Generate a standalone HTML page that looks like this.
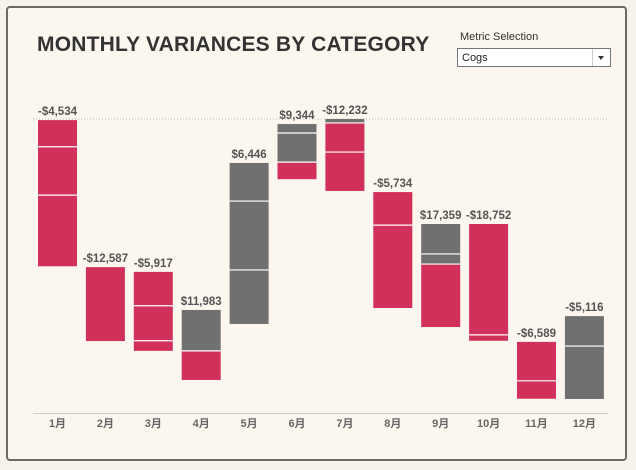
<!DOCTYPE html>
<html><head><meta charset="utf-8">
<style>
html,body{margin:0;padding:0;background:#f7f3ec;width:636px;height:470px;overflow:hidden;font-family:"Liberation Sans","Noto Sans CJK SC",sans-serif;}
#frame{position:absolute;left:6px;top:6px;width:621px;height:455px;border:2px solid #6e6a62;border-radius:4px;background:#fcf7ee;box-sizing:border-box;}
#title{position:absolute;left:37px;top:33px;font-size:21px;font-weight:bold;color:#333;letter-spacing:0.2px;}
#ms-label{position:absolute;left:460px;top:31px;font-size:11px;color:#333;}
#dropdown{position:absolute;left:457px;top:48px;width:154px;height:19px;border:1px solid #777;background:#fff;box-sizing:border-box;font-size:11px;color:#222;}
#dropdown span{position:absolute;left:4px;top:3px;}
#dropdown i{position:absolute;right:0;top:0;width:17px;height:17px;border-left:1px solid #ccc;}
#dropdown i:after{content:"";position:absolute;left:5px;top:7px;border-left:3.5px solid transparent;border-right:3.5px solid transparent;border-top:4px solid #333;}
svg{position:absolute;left:0;top:0;}
</style></head><body>
<div id="frame"></div>
<div id="title">MONTHLY VARIANCES BY CATEGORY</div>
<div id="ms-label">Metric Selection</div>
<div id="dropdown"><span>Cogs</span><i></i></div>
<svg id="chart" width="636" height="470"></svg>
<script>
const months=["1月","2月","3月","4月","5月","6月","7月","8月","9月","10月","11月","12月"];
const labels=["-$4,534","-$12,587","-$5,917","$11,983","$6,446","$9,344","-$12,232","-$5,734","$17,359","-$18,752","-$6,589","-$5,116"];
const starts=[-0.4,-52.9,-54.6,-68.2,-15.7,-1.8,0,-26.1,-37.5,-37.5,-79.6,-70.4];
const segSizes=[[9.5,17.3,25.4],[26.4],[12.1,12.5,3.6],[14.6,10.4],[13.6,24.6,19.3],[3.2,10.4,6.1],[1.4,10.4,13.9],[11.8,29.6],[10.7,3.6,22.5],[39.6,2.1],[13.9,6.4],[10.7,18.9]];
const segColors=[["r","r","r"],["r"],["r","r","r"],["g","r"],["g","g","g"],["g","g","r"],["g","r","r"],["r","r"],["g","g","r"],["r","r"],["r","r"],["g","g"]];
const NS="http://www.w3.org/2000/svg";
const svg=document.getElementById("chart");
const y=v=>119-v*2.8;
const x=i=>38+i*47.9;
const bw=39;
const col={r:"#d0305a",g:"#707070"};
function mk(t,a){const e=document.createElementNS(NS,t);for(const k in a)e.setAttribute(k,a[k]);svg.appendChild(e);return e;}
let ref=mk("line",{x1:33,x2:608,y1:119,y2:119,stroke:"#bbb","stroke-dasharray":"1,2","stroke-width":1});


let ax=mk("line",{x1:33,x2:608,y1:413.5,y2:413.5,stroke:"#ccc","stroke-width":1});


months.forEach((m,i)=>{
  let cur=starts[i];
  segSizes[i].forEach((s,j)=>{
    const top=y(cur),bot=y(cur-s);
    const r=mk("rect",{x:x(i),y:top,width:bw,height:bot-top,fill:col[segColors[i][j]]});
    
    
    if(j>0){const l=mk("line",{x1:x(i),x2:x(i)+bw,y1:top,y2:top,stroke:"#fff","stroke-width":1.2});
      
      }
    cur-=s;
  });
  const t=mk("text",{x:x(i)+bw/2,y:y(starts[i])-5,"text-anchor":"middle","font-size":"11.5","font-weight":"bold",fill:"#555"});
  t.textContent=labels[i];
  
  
  const mt=mk("text",{x:x(i)+bw/2,y:427,"text-anchor":"middle","font-size":"11","font-weight":"bold",fill:"#666"});
  mt.textContent=m;
  
  
});
</script>
</body></html>
